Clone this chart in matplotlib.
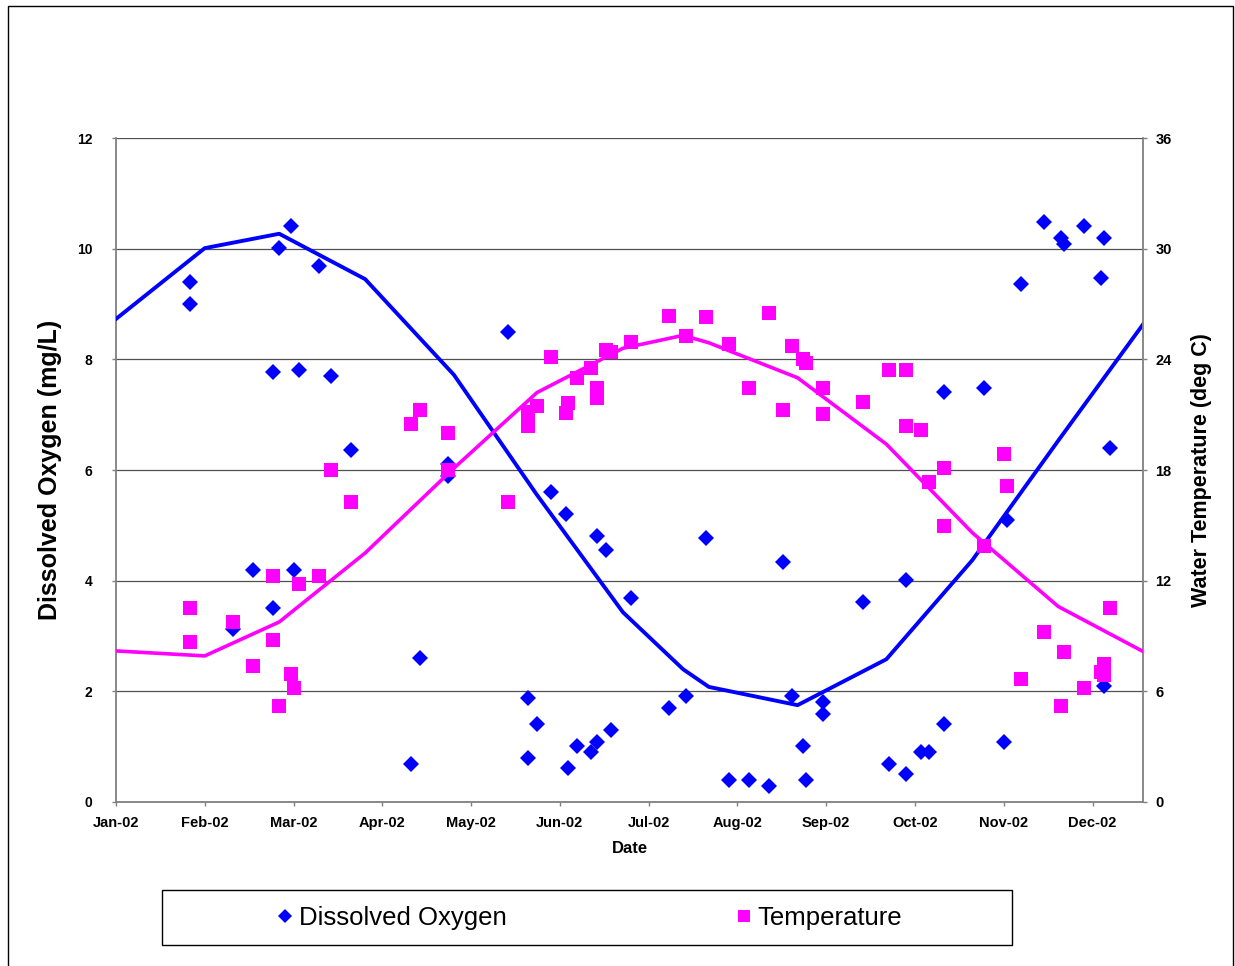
import matplotlib.pyplot as plt
from matplotlib.patches import Rectangle

# Sampling days are counted from 1 Jan 2002.

do_days = [
    26, 26, 41, 48, 55, 55, 57, 61, 62, 64, 71, 75, 82, 103, 106, 116, 116,
    137, 144, 144, 147, 152, 157, 158, 161, 166, 168, 168, 171, 173, 180,
    193, 199, 206, 214, 221, 228, 233, 236, 240, 241, 247, 247, 261, 270,
    276, 276, 281, 284, 289, 289, 303, 310, 311, 316, 324, 330, 331, 338,
    344, 345, 345, 347,
]

do_values = [
    9.40, 9.00, 3.13, 4.19, 7.77, 3.51, 10.01, 10.41, 4.19, 7.81, 9.69,
    7.70, 6.36, 0.69, 2.60, 6.11, 5.89, 8.49, 1.88, 0.80, 1.41, 5.60, 5.20,
    0.61, 1.01, 0.90, 4.81, 1.08, 4.55, 1.30, 3.69, 1.70, 1.92, 4.77, 0.40,
    0.40, 0.29, 4.34, 1.92, 1.01, 0.40, 1.81, 1.59, 3.61, 0.69, 4.01, 0.51,
    0.90, 0.90, 7.41, 1.41, 7.48, 1.08, 5.10, 9.36, 10.48, 10.19, 10.08,
    10.41, 9.47, 10.19, 2.10, 6.40,
]

temp_days = [
    26, 26, 41, 48, 55, 55, 57, 61, 62, 64, 71, 75, 82, 103, 106, 116, 116,
    137, 144, 144, 147, 152, 157, 158, 161, 166, 168, 168, 171, 173, 180,
    193, 199, 206, 214, 221, 228, 233, 236, 240, 241, 247, 247, 261, 270,
    276, 276, 281, 284, 289, 289, 303, 310, 311, 316, 324, 330, 331, 338,
    344, 345, 345, 347,
]

temp_values = [
    10.52, 8.68, 9.76, 7.38, 12.26, 8.79, 5.21, 6.94, 6.18, 11.82, 12.26,
    18.00, 16.27, 20.50, 21.26, 20.01, 18.00, 16.27, 21.15, 20.39, 21.47,
    24.13, 21.10, 21.64, 22.99, 23.54, 22.45, 21.91, 24.51, 24.40, 24.95,
    26.36, 25.27, 26.30, 24.84, 22.45, 26.52, 21.26, 24.73, 24.02, 23.81,
    22.45, 21.04, 21.69, 23.43, 23.43, 20.39, 20.17, 17.35, 14.97, 18.11,
    13.88, 18.87, 17.14, 6.67, 9.22, 5.21, 8.13, 6.18, 7.05, 7.48, 6.89,
    10.52,
]

# Smoothed seasonal curves

trend_days = [0, 31, 57, 87, 118, 147, 177, 198, 207, 238, 269, 299, 329, 359]

do_trend = [
    8.73, 10.01, 10.27, 9.45, 7.72, 5.55, 3.43, 2.40, 2.08, 1.75, 2.58,
    4.37, 6.53, 8.66,
]

temp_trend = [
    8.19, 7.92, 9.76, 13.50, 18.10, 22.20, 24.60, 25.30, 24.90, 23.00,
    19.40, 14.60, 10.60, 8.13,
]

month_labels = [
    "Jan-02", "Feb-02", "Mar-02", "Apr-02", "May-02", "Jun-02",
    "Jul-02", "Aug-02", "Sep-02", "Oct-02", "Nov-02", "Dec-02",
]

do_ticks = [0, 2, 4, 6, 8, 10, 12]
temp_ticks = [0, 6, 12, 18, 24, 30, 36]

BLUE = "#0000FF"
MAGENTA = "#FF00FF"
AXIS_GREY = "#808080"

plt.rcParams["font.family"] = ["Liberation Sans", "DejaVu Sans"]

fig = plt.figure(
    figsize=(12.35, 9.66),
    dpi=100,
)

ax = fig.add_axes(
    [0.0939, 0.1698, 0.8316, 0.6873],
)

ax2 = ax.twinx()

# Dissolved oxygen on the left axis

do_points, = ax.plot(
    do_days,
    do_values,
    linestyle="none",
    marker="D",
    markersize=8.4,
    markeredgewidth=0,
    color=BLUE,
    label="Dissolved Oxygen",
    zorder=3,
)

ax.plot(
    trend_days,
    do_trend,
    color=BLUE,
    linewidth=2.8,
    zorder=4,
)

# Temperature on the right axis

temp_points, = ax2.plot(
    temp_days,
    temp_values,
    linestyle="none",
    marker="s",
    markersize=10,
    markeredgewidth=0,
    color=MAGENTA,
    label="Temperature",
    zorder=3,
)

ax2.plot(
    trend_days,
    temp_trend,
    color=MAGENTA,
    linewidth=2.6,
    zorder=4,
)

ax.set_xlim(0, 358.6)
ax.set_ylim(0, 12)
ax2.set_ylim(0, 36)

ax.set_xticks([31 * i for i in range(len(month_labels))])
ax.set_xticklabels(month_labels)

ax.set_yticks(do_ticks)
ax2.set_yticks(temp_ticks)

ax.grid(
    axis="y",
    color="#505050",
    linewidth=0.9,
)
ax.set_axisbelow(True)

for side in ["top", "right"]:
    ax.spines[side].set_visible(False)

for side in ["top", "left", "bottom"]:
    ax2.spines[side].set_visible(False)

for spine in [ax.spines["left"], ax.spines["bottom"], ax2.spines["right"]]:
    spine.set_color(AXIS_GREY)
    spine.set_linewidth(1.3)

ax.tick_params(
    axis="x",
    direction="out",
    length=3,
    width=1,
    color=AXIS_GREY,
    pad=7,
    labelsize=10.5,
)

ax.tick_params(
    axis="y",
    direction="out",
    length=3,
    width=1,
    color=AXIS_GREY,
    pad=14,
    labelsize=10,
)

ax2.tick_params(
    axis="y",
    direction="out",
    length=3,
    width=1,
    color=AXIS_GREY,
    pad=6,
    labelsize=10.5,
)

for label in ax.get_xticklabels() + ax.get_yticklabels() + ax2.get_yticklabels():
    label.set_fontweight("bold")

ax.set_xlabel(
    "Date",
    fontsize=12,
    fontweight="bold",
    labelpad=8,
)

ax.set_ylabel(
    "Dissolved Oxygen (mg/L)",
    fontsize=18,
    fontweight="bold",
    labelpad=11,
)

ax2.set_ylabel(
    "Water Temperature (deg C)",
    fontsize=15.5,
    fontweight="bold",
    labelpad=14,
)

# Legend box below the plot

fig.add_artist(
    Rectangle(
        (0.1312, 0.0217),
        0.6883,
        0.0569,
        transform=fig.transFigure,
        facecolor="none",
        edgecolor="black",
        linewidth=1,
    )
)

fig.legend(
    handles=[do_points, temp_points],
    loc="center",
    bbox_to_anchor=(0.4777, 0.0502),
    ncol=2,
    frameon=False,
    fontsize=18.5,
    handlelength=0.6,
    handletextpad=0.25,
    columnspacing=8.9,
    markerscale=0.8,
)

# Outer chart border

fig.add_artist(
    Rectangle(
        (0.0065, -0.01),
        0.9919,
        1.0038,
        transform=fig.transFigure,
        facecolor="none",
        edgecolor="black",
        linewidth=1,
    )
)

fig.savefig("out.png", dpi=100)
